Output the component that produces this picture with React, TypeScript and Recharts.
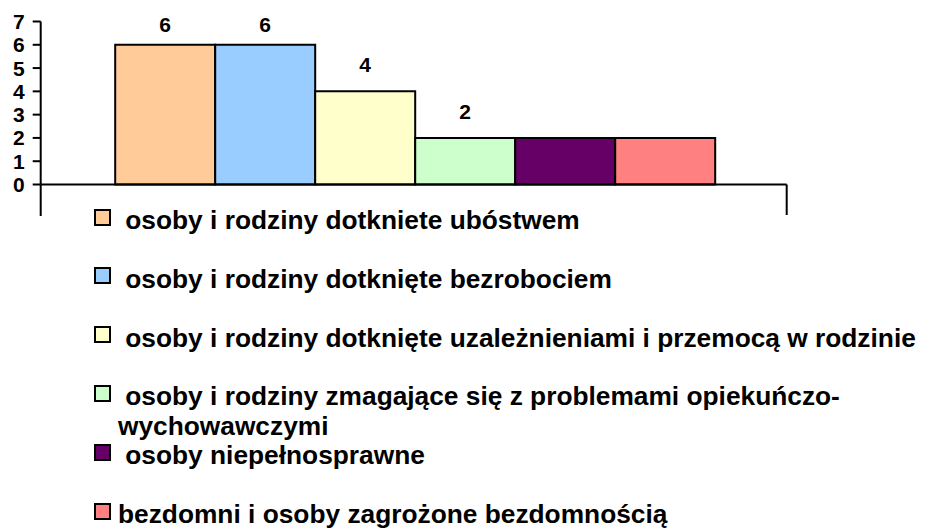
import React from "react";
import { BarChart, Bar, XAxis, YAxis, Legend, LabelList } from "recharts";

// ---- data ----
const categories: string[] = [""];
const seriesNames: string[] = [
  " osoby i rodziny dotkniete ubóstwem",
  " osoby i rodziny dotknięte bezrobociem",
  " osoby i rodziny dotknięte uzależnieniami i przemocą w rodzinie",
  " osoby i rodziny zmagające się z problemami opiekuńczo-wychowawczymi",
  " osoby niepełnosprawne",
  "bezdomni i osoby zagrożone bezdomnością",
];
const seriesValues: number[] = [6, 6, 4, 2, 2, 2];
const seriesColors: string[] = ["#FFCC99", "#99CCFF", "#FFFFCC", "#CCFFCC", "#660066", "#FF8080"];
const seriesLabeled: boolean[] = [true, true, true, true, false, false];
const yTicks: number[] = [0, 1, 2, 3, 4, 5, 6, 7];

const data = categories.map((c) => {
  const row: Record<string, string | number> = { category: c };
  seriesValues.forEach((v, i) => {
    row["s" + i] = v;
  });
  return row;
});

const FONT = "'Liberation Sans', Arial, Helvetica, sans-serif";
const W = 926;
const H = 529;
const MARGIN = { top: 21.5, right: 139.3, bottom: 310.5, left: 0 };

const XEdgeTick = (props: any) => {
  const { x, y, payload, width } = props;
  const off = payload && typeof payload.offset === "number" && payload.offset > 0 ? payload.offset : width / 2;
  return (
    <g>
      <line x1={x - off} y1={y} x2={x - off} y2={y + 31.5} stroke="#000" strokeWidth={2} />
      <line x1={x + off} y1={y} x2={x + off} y2={y + 30.5} stroke="#000" strokeWidth={2} />
    </g>
  );
};

const renderLabel = (props: any) => {
  const { x, y, width, value } = props;
  const baseline = Math.max(Number(y) - 19, MARGIN.top + 10.8);
  return (
    <text
      x={Number(x) + Number(width) / 2}
      y={baseline}
      textAnchor="middle"
      fontFamily={FONT}
      fontWeight="bold"
      fontSize={21}
      fill="#000"
    >
      {value}
    </text>
  );
};

const LEG_TOP = 205;
const LEG_STEP = 58.8;

const renderLegend = (props: any) => {
  const payload: any[] = props.payload || [];
  return (
    <div style={{ position: "relative", width: W, height: H }}>
      {payload.map((entry, i) => {
        const name: string = String(entry.value);
        const parts = name.split(/(?<=-)/);
        return (
          <div
            key={i}
            style={{
              position: "absolute",
              left: 0,
              top: LEG_TOP + i * LEG_STEP,
              width: W,
            }}
          >
            <div
              style={{
                position: "absolute",
                left: 94,
                top: 3.5,
                width: 17,
                height: 17,
                boxSizing: "border-box",
                border: "2px solid #000",
                background: entry.color,
              }}
            />
            <div
              style={{
                position: "absolute",
                left: 118,
                top: 0,
                fontFamily: FONT,
                fontWeight: "bold",
                fontSize: 26.3,
                lineHeight: "30px",
                color: "#000",
                whiteSpace: "pre",
              }}
            >
              {parts.map((p, j) => (
                <div key={j}>{p}</div>
              ))}
            </div>
          </div>
        );
      })}
    </div>
  );
};

export default function App() {
  return (
    <div style={{ position: "absolute", left: 0, top: 0, width: W, height: H, background: "#fff", overflow: "hidden" }}>
      <BarChart width={W} height={H} data={data} margin={MARGIN} barGap={0} barCategoryGap={74.5}>
        <XAxis
          dataKey="category"
          type="category"
          axisLine={{ stroke: "#000", strokeWidth: 2 }}
          tickLine={false}
          tickSize={0}
          tickMargin={0}
          height={34}
          tick={<XEdgeTick />}
          interval={0}
        />
        <YAxis
          domain={[0, 7]}
          ticks={yTicks}
          interval={0}
          width={40.7}
          axisLine={{ stroke: "#000", strokeWidth: 2 }}
          tickLine={{ stroke: "#000", strokeWidth: 2 }}
          tickSize={8}
          tickMargin={8}
          tick={{ fill: "#000", fontFamily: FONT, fontWeight: "bold", fontSize: 21 }}
          allowDecimals={false}
        />
        <Legend
          layout="horizontal"
          verticalAlign="middle"
          align="center"
          wrapperStyle={{ left: 0, top: 0, width: W, height: H, pointerEvents: "none" }}
          content={renderLegend}
        />
        {seriesNames.map((n, i) => (
          <Bar
            key={i}
            dataKey={"s" + i}
            name={n}
            fill={seriesColors[i]}
            stroke="#000"
            strokeWidth={2}
            isAnimationActive={false}
            legendType="square"
          >
            {seriesLabeled[i] ? <LabelList dataKey={"s" + i} content={renderLabel} /> : null}
          </Bar>
        ))}
      </BarChart>
    </div>
  );
}
